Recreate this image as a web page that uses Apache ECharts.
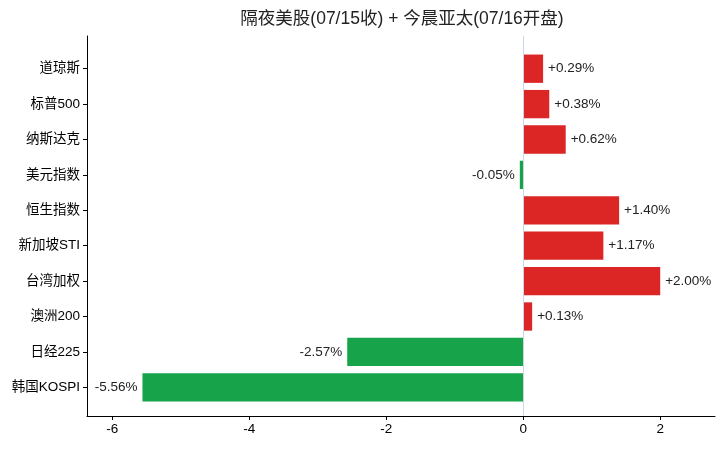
<!DOCTYPE html>
<html>
<head>
<meta charset="utf-8">
<script src="https://cdn.jsdelivr.net/npm/echarts@6/dist/echarts.min.js"></script>
<style>
  html, body { margin: 0; padding: 0; background: #fff; }
  #chart { width: 723px; height: 449px; }
</style>
</head>
<body>
<div id="chart"></div>
<script>
// overnight US close + Asia-Pacific open, % change
const categories = ['道琼斯', '标普500', '纳斯达克', '美元指数', '恒生指数', '新加坡STI', '台湾加权', '澳洲200', '日经225', '韩国KOSPI'];
const changes = [0.29, 0.38, 0.62, -0.05, 1.40, 1.17, 2.00, 0.13, -2.57, -5.56];
const xTicks = [-6, -4, -2, 0, 2];

const FONT = '"Liberation Sans", Arial, "Noto Sans CJK SC", sans-serif';
const UP = '#dc2626';
const DOWN = '#16a34a';
const X_MIN = -6.37, X_MAX = 2.8;

const chart = echarts.init(document.getElementById('chart'));

const barData = changes.map(v => ({
    value: v,
    itemStyle: { color: v >= 0 ? UP : DOWN },
    label: { position: v >= 0 ? 'right' : 'left' }
}));

chart.setOption({
    animation: false,
    textStyle: { fontFamily: FONT },
    title: {
        text: '隔夜美股(07/15收) + 今晨亚太(07/16开盘)',
        left: 397,
        textAlign: 'center',
        top: 5,
        textStyle: { fontSize: 17.5, fontWeight: 'normal', color: '#222', fontFamily: FONT }
    },
    grid: [
        // outer frame: spines + x ticks
        { left: 87, right: 8, top: 36, bottom: 33 },
        // inner area for the bars
        { left: 87, right: 8, top: 51, bottom: 44 }
    ],
    xAxis: [
        {
            gridIndex: 0, type: 'value', min: X_MIN, max: X_MAX,
            axisLine: { show: true, onZero: false, lineStyle: { color: '#000', width: 1 } },
            axisTick: { show: true, customValues: xTicks, length: 4, lineStyle: { color: '#000' } },
            axisLabel: { customValues: xTicks, color: '#000', fontSize: 13.5, margin: 7, fontFamily: FONT },
            splitLine: { show: false }
        },
        {
            gridIndex: 1, type: 'value', min: X_MIN, max: X_MAX, show: false
        }
    ],
    yAxis: [
        {
            gridIndex: 0, type: 'value', min: 0, max: 1, position: 'left',
            axisLine: { show: true, onZero: false, lineStyle: { color: '#000', width: 1 } },
            axisTick: { show: false }, axisLabel: { show: false }, splitLine: { show: false }
        },
        {
            gridIndex: 1, type: 'category', data: categories, inverse: true, position: 'left',
            axisLine: { show: false, onZero: false },
            axisTick: { show: true, alignWithLabel: true, length: 4, lineStyle: { color: '#000' } },
            axisLabel: { color: '#000', fontSize: 13.5, margin: 7, fontFamily: FONT }
        }
    ],
    series: [
        {
            type: 'scatter', xAxisIndex: 0, yAxisIndex: 0, data: [],
            markLine: {
                silent: true, symbol: 'none', label: { show: false },
                lineStyle: { color: '#c8d6e5', type: 'solid', width: 1 },
                data: [{ xAxis: 0 }]
            }
        },
        {
            type: 'bar', xAxisIndex: 1, yAxisIndex: 1,
            data: barData,
            barCategoryGap: '20%',
            label: {
                show: true, distance: 5, fontSize: 13.5, color: '#222', fontFamily: FONT,
                formatter: p => (p.value > 0 ? '+' : '') + p.value.toFixed(2) + '%'
            }
        }
    ]
});
</script>
</body>
</html>
